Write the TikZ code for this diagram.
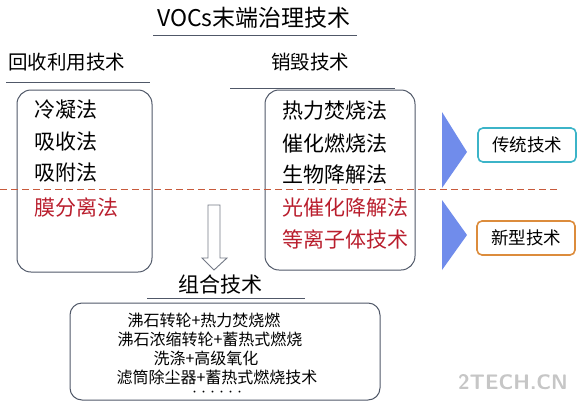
\documentclass[tikz,border=0pt]{standalone}
\usepackage{fontspec}
\setmainfont{Noto Sans CJK SC}
\usepackage{tikz}
\usetikzlibrary{shapes,arrows,positioning,calc}
\definecolor{boxgray}{RGB}{80,88,104}
\definecolor{methodred}{RGB}{185,30,45}
\definecolor{splitred}{RGB}{200,90,60}
\definecolor{wedgeblue}{RGB}{112,140,235}
\definecolor{tradteal}{RGB}{60,180,200}
\definecolor{neworange}{RGB}{220,140,60}

\begin{document}
\begin{tikzpicture}[x=1pt, y=-1pt,
    heading/.style={font=\fontsize{19.5}{21}\selectfont, inner sep=0pt},
    method/.style={font=\fontsize{21}{23}\selectfont, anchor=west, inner sep=0pt},
    newmethod/.style={method, text=methodred},
    groupbox/.style={draw=boxgray, line width=1pt, rounded corners=14pt},
    tagbox/.style={rectangle, rounded corners=5pt, line width=1.6pt, minimum width=98pt, minimum height=34pt, font=\fontsize{17.5}{19}\selectfont},
    combo/.style={font=\fontsize{16}{18}\selectfont, inner sep=0pt},
    wedge/.style={fill=wedgeblue, draw=none}
]
    \useasboundingbox (0,0) rectangle (579,405);

    % titles
    \node[heading, font=\fontsize{23}{25}\selectfont] (title) at (254,18) {VOCs末端治理技术};
    \draw[boxgray, line width=1pt] (153,35) -- (357,35);
    \node[heading, anchor=west] (recover) at (8,62) {回收利用技术};
    \draw[boxgray, line width=1pt] (6,82) -- (150,82);
    \node[heading] (destroy) at (310,62) {销毁技术};
    \draw[boxgray, line width=1pt] (230,88) -- (395,88);

    % two method boxes
    \draw[groupbox] (17,90) rectangle (152,272);
    \node[method] (m1) at (34,110) {冷凝法};
    \node[method] (m2) at (34,142) {吸收法};
    \node[method] (m3) at (34,173) {吸附法};
    \node[newmethod] (m4) at (34,207) {膜分离法};

    \draw[groupbox] (265,90) rectangle (415,270);
    \node[method] (d1) at (282,111) {热力焚烧法};
    \node[method] (d2) at (282,143) {催化燃烧法};
    \node[method] (d3) at (282,175) {生物降解法};
    \node[newmethod] (d4) at (282,208) {光催化降解法};
    \node[newmethod] (d5) at (282,239) {等离子体技术};

    % old / new split
    \draw[splitred, line width=0.8pt, dash pattern=on 7pt off 4pt] (0,189) -- (557,189);

    % wedges and tags
    \fill[wedge] (442,112) -- (467,152) -- (442,188) -- cycle;
    \fill[wedge] (442,200) -- (467,235) -- (442,270) -- cycle;
    \node[tagbox, draw=tradteal] (trad) at (527,145) {传统技术};
    \node[tagbox, draw=neworange] (new) at (526,238) {新型技术};

    % hollow down arrow
    \draw[boxgray!80, line width=0.9pt, line join=miter]
        (208,205) -- (220,205) -- (220,258) -- (227,258) -- (214,270)
        -- (202,258) -- (208,258) -- cycle;

    % combined techniques
    \node[heading, font=\fontsize{21}{23}\selectfont] (combtitle) at (220,284) {组合技术};
    \draw[boxgray, line width=1pt] (147,298) -- (305,298);
    \draw[groupbox, rounded corners=12pt] (70,303) rectangle (380,400);
    \node[combo] (c1) at (204,320) {沸石转轮+热力焚烧燃};
    \node[combo] (c2) at (210,339) {沸石浓缩转轮+蓄热式燃烧};
    \node[combo] (c3) at (206,358) {洗涤+高级氧化};
    \node[combo] (c4) at (217,377) {滤筒除尘器+蓄热式燃烧技术};
    \node[combo, font=\fontsize{9}{10}\selectfont] (c5) at (217,393) {······};

    % watermark
    \node[font=\fontsize{21}{22}\sffamily\bfseries, text=gray!45] (mark) at (513,382) {2TECH.CN};
\end{tikzpicture}
\end{document}
